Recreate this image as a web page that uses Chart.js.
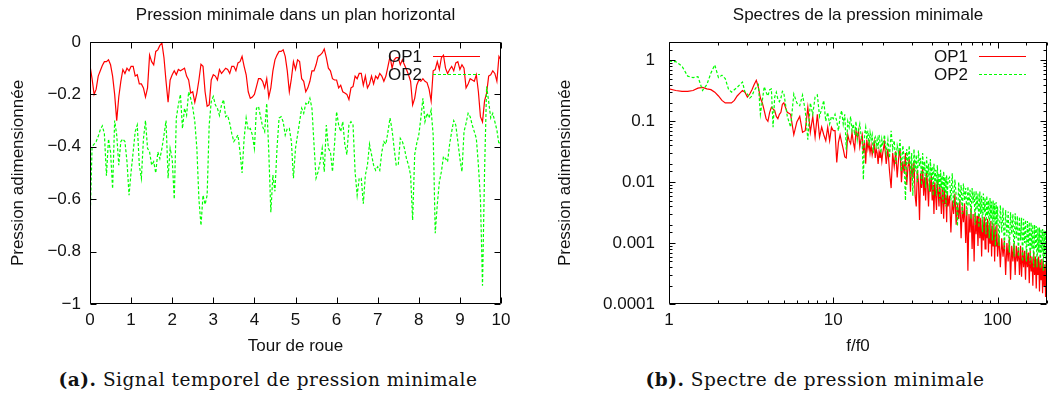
<!DOCTYPE html>
<html>
<head>
<meta charset="utf-8">
<script src="https://cdn.jsdelivr.net/npm/chart.js@4.4.1/dist/chart.umd.min.js"></script>
<style>
  body { margin: 0; background: #fff; width: 1048px; height: 396px; overflow: hidden; position: relative; }
  canvas { position: absolute; top: 0; }
  #chartTemps { left: 0; }
  #chartSpectre { left: 524px; }
  .caption { position: absolute; top: 369px; font-family: "DejaVu Serif", serif; font-size: 18.5px;
             letter-spacing: 0.5px; color: #111; white-space: nowrap; transform: translateX(-50%); }
</style>
</head>
<body>
<canvas id="chartTemps" width="524" height="360"></canvas>
<canvas id="chartSpectre" width="524" height="360"></canvas>
<div class="caption" style="left:268px"><b>(a).</b> Signal temporel de pression minimale</div>
<div class="caption" style="left:815px"><b>(b).</b> Spectre de pression minimale</div>
<script>
// --- data -------------------------------------------------------------
const seriesNames = ['OP1', 'OP2'];

// time signal, one sample every 0.05 wheel revolution, from 0 to 10
const tourStart = 0;
const tourStep = 0.05;
const op1Signal = [
  -0.09, -0.14, -0.20, -0.18, -0.13, -0.11, -0.09, -0.075, -0.075, -0.068,
  -0.087, -0.13, -0.20, -0.30, -0.21, -0.15, -0.105, -0.12, -0.10, -0.11,
  -0.093, -0.093, -0.13, -0.125, -0.16, -0.16, -0.175, -0.21, -0.175, -0.05,
  -0.075, -0.087, -0.036, -0.03, -0.013, -0.004, -0.06, -0.15, -0.23, -0.145,
  -0.125, -0.11, -0.125, -0.105, -0.11, -0.105, -0.10, -0.13, -0.145, -0.195,
  -0.19, -0.23, -0.195, -0.145, -0.085, -0.093, -0.19, -0.245, -0.24, -0.145,
  -0.125, -0.13, -0.145, -0.105, -0.12, -0.11, -0.10, -0.105, -0.12, -0.093,
  -0.093, -0.11, -0.08, -0.075, -0.055, -0.093, -0.125, -0.19, -0.215, -0.21,
  -0.20, -0.17, -0.14, -0.14, -0.15, -0.175, -0.14, -0.21, -0.175, -0.11,
  -0.068, -0.05, -0.036, -0.036, -0.03, -0.055, -0.11, -0.19, -0.14, -0.075,
  -0.105, -0.068, -0.075, -0.14, -0.15, -0.19, -0.175, -0.15, -0.11, -0.11,
  -0.087, -0.055, -0.05, -0.042, -0.027, -0.06, -0.10, -0.11, -0.14, -0.145,
  -0.145, -0.175, -0.165, -0.19, -0.195, -0.20, -0.22, -0.175, -0.17, -0.13,
  -0.14, -0.12, -0.12, -0.165, -0.13, -0.175, -0.16, -0.13, -0.16, -0.13,
  -0.14, -0.12, -0.13, -0.15, -0.13, -0.093, -0.055, -0.10, -0.068, -0.06,
  -0.06, -0.087, -0.068, -0.087, -0.105, -0.125, -0.15, -0.24, -0.215, -0.165,
  -0.145, -0.15, -0.14, -0.15, -0.155, -0.18, -0.225, -0.11, -0.105, -0.075,
  -0.105, -0.06, -0.05, -0.10, -0.12, -0.105, -0.093, -0.11, -0.08, -0.075,
  -0.105, -0.087, -0.10, -0.175, -0.16, -0.14, -0.145, -0.15, -0.125, -0.19,
  -0.285, -0.305, -0.225, -0.195, -0.13, -0.125, -0.11, -0.12, -0.15, -0.055, -0.068
];
const op2Signal = [
  -0.70, -0.40, -0.39, -0.38, -0.36, -0.335, -0.32, -0.35, -0.51, -0.37,
  -0.42, -0.56, -0.30, -0.355, -0.47, -0.38, -0.37, -0.38, -0.457, -0.585,
  -0.495, -0.42, -0.342, -0.317, -0.47, -0.52, -0.37, -0.30, -0.406, -0.42,
  -0.47, -0.457, -0.50, -0.42, -0.445, -0.406, -0.355, -0.30, -0.52, -0.406,
  -0.445, -0.60, -0.29, -0.24, -0.20, -0.33, -0.253, -0.28, -0.19, -0.215,
  -0.25, -0.304, -0.406, -0.60, -0.70, -0.585, -0.62, -0.585, -0.317, -0.227,
  -0.208, -0.24, -0.253, -0.28, -0.24, -0.22, -0.285, -0.28, -0.31, -0.35,
  -0.38, -0.368, -0.355, -0.42, -0.50, -0.368, -0.29, -0.336, -0.33, -0.355,
  -0.406, -0.253, -0.246, -0.285, -0.323, -0.342, -0.234, -0.42, -0.65, -0.508,
  -0.57, -0.406, -0.29, -0.285, -0.304, -0.355, -0.33, -0.33, -0.38, -0.52,
  -0.406, -0.355, -0.304, -0.253, -0.272, -0.234, -0.24, -0.215, -0.253, -0.39,
  -0.52, -0.495, -0.457, -0.406, -0.495, -0.317, -0.406, -0.42, -0.495, -0.39,
  -0.266, -0.317, -0.342, -0.304, -0.39, -0.43, -0.317, -0.304, -0.317, -0.495,
  -0.585, -0.52, -0.52, -0.617, -0.508, -0.47, -0.39, -0.43, -0.47, -0.49,
  -0.476, -0.49, -0.42, -0.38, -0.39, -0.342, -0.29, -0.336, -0.406, -0.47,
  -0.47, -0.368, -0.38, -0.406, -0.445, -0.47, -0.508, -0.68, -0.43, -0.387,
  -0.355, -0.29, -0.215, -0.304, -0.272, -0.29, -0.26, -0.355, -0.73, -0.62,
  -0.534, -0.495, -0.437, -0.445, -0.457, -0.39, -0.342, -0.30, -0.317, -0.38,
  -0.445, -0.495, -0.342, -0.31, -0.272, -0.285, -0.317, -0.342, -0.368, -0.47,
  -0.60, -0.93, -0.495, -0.17, -0.227, -0.29, -0.272, -0.304, -0.336, -0.39, -0.38
];

// spectra: frequency (f/f0) and amplitude of each probe
const specFreq = [
  1, 1.1, 1.2, 1.3, 1.4, 1.5, 1.6, 1.7, 1.8, 1.9, 2, 2.1, 2.2, 2.3, 2.4, 2.5, 2.6, 2.7, 2.8, 2.9,
  3, 3.1, 3.2, 3.3, 3.4, 3.5, 3.6, 3.7, 3.8, 3.9, 4, 4.1, 4.2, 4.3, 4.4, 4.5, 4.6, 4.7, 4.8, 4.9, 5,
  5.25, 5.5, 5.75, 6, 6.25, 6.5, 6.75, 7, 7.25, 7.5, 7.75, 8, 8.25, 8.5, 8.75, 9, 9.25, 9.5, 9.75, 10,
  10.25, 10.5, 10.75, 11, 11.25, 11.5, 11.75, 12, 12.25, 12.5, 12.75, 13, 13.25, 13.5, 13.75, 14, 14.25, 14.5, 14.75, 15,
  15.25, 15.5, 15.75, 16, 16.25, 16.5, 16.75, 17, 17.25, 17.5, 17.75, 18, 18.25, 18.5, 18.75, 19, 19.25, 19.5, 19.75, 20,
  20.5, 21, 21.5, 22, 22.5, 23, 23.5, 24, 24.5, 25, 25.5, 26, 26.5, 27, 27.5, 28, 28.5, 29, 29.5, 30,
  30.5, 31, 31.5, 32, 32.5, 33, 33.5, 34, 34.5, 35, 35.5, 36, 36.5, 37, 37.5, 38, 38.5, 39, 39.5, 40,
  40.5, 41, 41.5, 42, 42.5, 43, 43.5, 44, 44.5, 45, 45.5, 46, 46.5, 47, 47.5, 48, 48.5, 49, 49.5, 50,
  51, 52, 53, 54, 55, 56, 57, 58, 59, 60, 61, 62, 63, 64, 65, 66, 67, 68, 69, 70,
  71, 72, 73, 74, 75, 76, 77, 78, 79, 80, 81, 82, 83, 84, 85, 86, 87, 88, 89, 90,
  91, 92, 93, 94, 95, 96, 97, 98, 99, 100,
  102, 104, 106, 108, 110, 112, 114, 116, 118, 120, 122, 124, 126, 128, 130, 132, 134, 136, 138, 140,
  142, 144, 146, 148, 150, 152, 154, 156, 158, 160, 162, 164, 166, 168, 170, 172, 174, 176, 178, 180,
  182, 184, 186, 188, 190, 192, 194, 196, 198, 200
];
const op1Spectrum = [
  .34, .32, .31, .31, .32, .35, .36, .34, .33, .30, .26, .22, .20, .20, .20, .22, .26, .29, .32, .30,
  .25, .28, .33, .40, .47, .36, .24, .20, .15, .11, .10, .14, .17, .16, .15, .12, .11, .13, .14, .19, .20,
  .14, .13, .06, .097, .12, .066, .07, .17, .066, .12, .055, .13, .055, .08, .06, .048, .08, .048, .08, .07,
  .07, .021, .045, .06, .045, .035, .026, .025, .06, .048, .043, .065, .045, .035, .07, .055, .07, .038, .05, .06,
  .03, .045, .02, .05, .035, .045, .03, .04, .028, .035, .045, .025, .035, .03, .02, .032, .025, .03, .022, .03,
  .045, .02, .035, .015, .008, .03, .018, .032, .012, .025, .035, .01, .022, .014, .03, .009, .018, .024, .007, .02,
  .012, .022, .006, .004, .016, .01, .0024, .014, .008, .018, .006, .012, .005, .015, .009, .004, .011, .007, .013, .005,
  .009, .003, .01, .006, .0035, .011, .007, .004, .009, .0055, .003, .008, .005, .0025, .0075, .0045, .006, .0022, .007, .004,
  .006, .0015, .005, .003, .0065, .002, .0045, .0025, .005, .0012, .004, .0022, .0045, .001, .0035, .00035, .003, .0015, .0038, .0008,
  .003, .0005, .0032, .0014, .0028, .0009, .003, .0012, .0026, .0006, .0024, .0011, .0027, .0008, .0022, .0012, .0025, .0007, .002, .001,
  .0023, .0006, .0019, .0009, .0021, .0005, .0017, .0009, .002, .0006,
  .0013, .0004, .0012, .0006, .0011, .0003, .001, .0005, .0012, .00025, .0009, .0005, .001, .0003, .0009, .0005, .00085, .0003, .0009, .00028,
  .0008, .0004, .00075, .00025, .0008, .0004, .0007, .00022, .00075, .00035, .0006, .0002, .0007, .0003, .0006, .00018, .00055, .0003, .0006, .00016,
  .0005, .00025, .00055, .00015, .0005, .0002, .00045, .00013, .0005, .0002
];
const op2Spectrum = [
  .97, .95, .80, .55, .52, .54, .32, .40, .62, .84, .52, .57, .50, .34, .30, .33, .36, .40, .44, .30,
  .28, .24, .26, .32, .36, .40, .13, .22, .37, .30, .26, .33, .34, .08, .25, .30, .23, .21, .24, .31, .29,
  .12, .08, .28, .20, .18, .27, .15, .05, .20, .13, .25, .27, .12, .16, .22, .10, .14, .09, .12, .11,
  .13, .10, .07, .12, .15, .09, .13, .034, .10, .08, .12, .07, .09, .06, .10, .05, .07, .09, .06, .045,
  .011, .06, .08, .05, .07, .04, .065, .05, .06, .03, .05, .055, .04, .05, .035, .06, .045, .03, .05, .04,
  .06, .03, .05, .025, .07, .035, .048, .02, .04, .03, .05, .015, .04, .025, .005, .035, .02, .04, .012, .03,
  .006, .035, .015, .028, .01, .033, .018, .025, .009, .03, .014, .022, .008, .026, .012, .02, .007, .024, .011, .018,
  .006, .02, .01, .016, .006, .019, .009, .014, .005, .016, .008, .013, .0045, .015, .007, .012, .004, .013, .006, .011,
  .012, .005, .014, .004, .011, .006, .0019, .01, .0045, .009, .003, .0095, .005, .008, .0028, .0085, .004, .0075, .0025, .008,
  .0045, .007, .002, .0072, .0035, .0065, .0018, .007, .003, .006, .0015, .0065, .0032, .0055, .0014, .006, .0028, .005, .0012, .0055,
  .0025, .0048, .0011, .005, .0022, .0045, .0009, .0047, .002, .004,
  .0009, .0042, .0015, .0038, .0008, .0035, .0013, .0033, .0007, .0032, .0014, .003, .0006, .0031, .0012, .0028, .0006, .0027, .0011, .0026,
  .0005, .0025, .001, .0024, .0005, .0023, .0009, .0022, .00045, .0022, .0008, .002, .0004, .002, .0008, .0019, .0004, .0018, .0007, .0018,
  .00038, .0017, .0007, .0017, .00035, .0016, .0006, .0016, .00035, .0015
];

// --- look -------------------------------------------------------------
const FONT = '"Liberation Sans", Arial, sans-serif';
const INK = '#111';
const RED = '#ff0000';
const GREEN = '#00ff00';

const isDecade = v => Math.abs(Math.log10(v) - Math.round(Math.log10(v))) < 1e-6;

// gnuplot style box with inward ticks on all four sides
const frame = {
  id: 'frame',
  afterDraw(chart) {
    const { ctx, chartArea: a, scales } = chart;
    const L = Math.round(a.left) + 0.5, R = Math.round(a.right) - 0.5;
    const T = Math.round(a.top) + 0.5, B = Math.round(a.bottom) - 0.5;
    const tickLen = (s, v) => (s.type === 'logarithmic' && !isDecade(v)) ? 3 : 6;
    ctx.save();
    ctx.setLineDash([]);
    ctx.strokeStyle = '#000';
    ctx.lineWidth = 1;
    ctx.beginPath();
    ctx.moveTo(L, T); ctx.lineTo(R, T); ctx.lineTo(R, B); ctx.lineTo(L, B); ctx.closePath();
    for (const t of scales.x.ticks) {
      const px = Math.round(scales.x.getPixelForValue(t.value)) + 0.5;
      const len = tickLen(scales.x, t.value);
      ctx.moveTo(px, B); ctx.lineTo(px, B - len);
      ctx.moveTo(px, T); ctx.lineTo(px, T + len);
    }
    for (const t of scales.y.ticks) {
      const py = Math.round(scales.y.getPixelForValue(t.value)) + 0.5;
      const len = tickLen(scales.y, t.value);
      ctx.moveTo(L, py); ctx.lineTo(L + len, py);
      ctx.moveTo(R, py); ctx.lineTo(R - len, py);
    }
    ctx.stroke();
    ctx.restore();
  }
};

// title centred over the plot box
const plotTitle = {
  id: 'plotTitle',
  afterDraw(chart, args, opts) {
    const { ctx, chartArea: a } = chart;
    ctx.save();
    ctx.font = '17px ' + FONT;
    ctx.fillStyle = INK;
    ctx.textAlign = 'center';
    ctx.textBaseline = 'middle';
    ctx.fillText(opts.text, (a.left + a.right) / 2, 15);
    ctx.restore();
  }
};

// key in the top right corner: label, then a line sample
const keyBox = {
  id: 'keyBox',
  afterDraw(chart) {
    const { ctx, chartArea: a } = chart;
    ctx.save();
    ctx.font = '17px ' + FONT;
    ctx.textAlign = 'right';
    ctx.textBaseline = 'middle';
    chart.data.datasets.forEach((ds, i) => {
      const y = a.top + 14 + i * 18;
      ctx.fillStyle = INK;
      ctx.fillText(ds.label, a.right - 79, y + 1);
      ctx.strokeStyle = ds.borderColor;
      ctx.lineWidth = 1.2;
      ctx.setLineDash(ds.borderDash || []);
      ctx.beginPath();
      ctx.moveTo(a.right - 68, Math.round(y) + 0.5);
      ctx.lineTo(a.right - 21, Math.round(y) + 0.5);
      ctx.stroke();
    });
    ctx.restore();
  }
};

const font17 = { family: FONT, size: 17 };
const noGrid = { display: false, drawTicks: false };

function baseOptions(titleText) {
  return {
    responsive: false,
    animation: false,
    devicePixelRatio: 1,
    events: [],
    plugins: {
      legend: { display: false },
      tooltip: { enabled: false },
      title: { display: false },
      plotTitle: { text: titleText }
    },
    elements: { point: { radius: 0 }, line: { tension: 0 } }
  };
}

function makeSet(name, color, dashed, points, order) {
  return {
    label: name, data: points, borderColor: color, backgroundColor: color,
    borderWidth: 1.2, borderDash: dashed ? [3, 2] : [], fill: false, order: order
  };
}

const fitX = s => { s.height = 56; s.paddingLeft = 0; s.paddingRight = 0; };

// --- chart (a): time signal -------------------------------------------
const optsA = baseOptions('Pression minimale dans un plan horizontal');
optsA.layout = { padding: { left: 0, right: 23, top: 42, bottom: 0 } };
optsA.scales = {
  x: {
    type: 'linear', min: 0, max: 10,
    ticks: { stepSize: 1, padding: 6, font: font17, color: INK, maxRotation: 0, autoSkip: false },
    grid: noGrid, border: { display: false },
    title: { display: true, text: 'Tour de roue', font: font17, color: INK, padding: { top: 0, bottom: 3 } },
    afterFit: fitX
  },
  y: {
    min: -1, max: 0,
    ticks: {
      stepSize: 0.2, padding: 9, font: font17, color: INK,
      callback: v => { const r = Math.round(v * 10) / 10; return r === 0 ? '0' : (r < 0 ? '\u2212' : '') + Math.abs(r); }
    },
    grid: noGrid, border: { display: false },
    title: { display: true, text: 'Pression adimensionnée', font: font17, color: INK, padding: { top: 8, bottom: 0 } },
    afterFit: s => { s.width = 90; s.paddingTop = 0; s.paddingBottom = 0; }
  }
};

new Chart(document.getElementById('chartTemps'), {
  type: 'line',
  data: {
    datasets: [
      makeSet(seriesNames[0], RED, false, op1Signal.map((v, i) => ({ x: tourStart + i * tourStep, y: v })), 2),
      makeSet(seriesNames[1], GREEN, true, op2Signal.map((v, i) => ({ x: tourStart + i * tourStep, y: v })), 1)
    ]
  },
  options: optsA,
  plugins: [frame, keyBox, plotTitle]
});

// --- chart (b): spectra -----------------------------------------------
const optsB = baseOptions('Spectres de la pression minimale');
optsB.layout = { padding: { left: 0, right: 1, top: 42, bottom: 0 } };
optsB.scales = {
  x: {
    type: 'logarithmic', min: 1, max: 200,
    ticks: { padding: 6, font: font17, color: INK, maxRotation: 0, autoSkip: false,
             callback: v => isDecade(v) ? String(Math.round(v)) : '' },
    grid: noGrid, border: { display: false },
    title: { display: true, text: 'f/f0', font: font17, color: INK, padding: { top: 0, bottom: 3 } },
    afterFit: fitX
  },
  y: {
    type: 'logarithmic', min: 0.0001, max: 2,
    ticks: {
      padding: 14, font: font17, color: INK, autoSkip: false,
      callback: v => {
        if (!isDecade(v)) return '';
        const e = Math.round(Math.log10(v));
        return e >= 0 ? String(10 ** e) : (10 ** e).toFixed(-e);
      }
    },
    grid: noGrid, border: { display: false },
    title: { display: true, text: 'Pression adimensionnée', font: font17, color: INK, padding: { top: 30.8, bottom: 0 } },
    afterFit: s => { s.width = 145; s.paddingTop = 0; s.paddingBottom = 0; }
  }
};

new Chart(document.getElementById('chartSpectre'), {
  type: 'line',
  data: {
    datasets: [
      makeSet(seriesNames[0], RED, false, specFreq.map((f, i) => ({ x: f, y: op1Spectrum[i] })), 2),
      makeSet(seriesNames[1], GREEN, true, specFreq.map((f, i) => ({ x: f, y: op2Spectrum[i] })), 1)
    ]
  },
  options: optsB,
  plugins: [frame, keyBox, plotTitle]
});
</script>
</body>
</html>
